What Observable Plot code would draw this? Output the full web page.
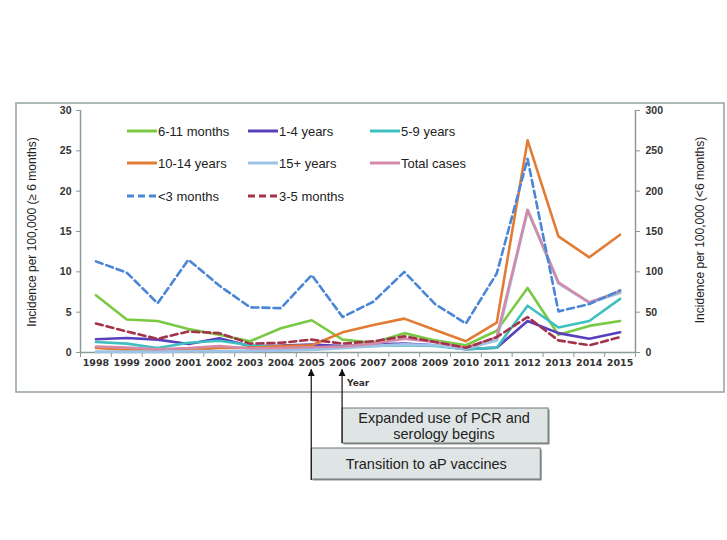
<!DOCTYPE html>
<html><head><meta charset="utf-8">
<script src="https://cdn.jsdelivr.net/npm/d3@7"></script>
<script src="https://cdn.jsdelivr.net/npm/@observablehq/plot@0.6"></script>
<style>body{margin:0;background:#fff}svg{display:block}</style>
</head><body><div id="chart"></div>
<script>
const years = [1998,1999,2000,2001,2002,2003,2004,2005,2006,2007,2008,2009,2010,2011,2012,2013,2014,2015];
// left axis (>= 6 months), per 100,000
const m6_11   = [7.1,4.1,3.9,2.9,2.2,1.4,3.0,4.0,1.6,1.2,2.4,1.5,0.9,2.7,8.0,2.2,3.3,3.9];
const y1_4    = [1.65,1.8,1.6,1.05,1.75,0.8,0.85,1.0,0.8,1.0,1.1,0.9,0.4,0.6,3.9,2.4,1.7,2.5];
const y5_9    = [1.3,1.1,0.55,1.2,1.45,0.9,0.7,0.6,0.7,0.8,0.9,0.8,0.4,0.6,5.8,3.1,3.9,6.65];
const y10_14  = [0.55,0.35,0.25,0.3,0.55,0.6,0.8,0.9,2.5,3.4,4.2,2.8,1.4,3.7,26.3,14.4,11.8,14.6];
const y15p    = [0.1,0.1,0.1,0.15,0.15,0.2,0.25,0.35,0.55,0.8,1.0,0.9,0.5,1.5,17.6,8.6,6.2,7.4];
const total   = [0.75,0.6,0.4,0.55,0.8,0.5,0.55,0.65,0.75,1.1,1.7,1.3,0.6,1.9,17.7,8.7,6.2,7.6];
// right axis (< 6 months), per 100,000
const lt3m    = [113,99,61,115,83,56,55,96,44,63,100,60,36,98,240,51,60,77];
const m3_5    = [36,26,17,26,24,11,12,16,11,14,20,13,6,19,44,15,9,19];
const leftTicks = [0,5,10,15,20,25,30];
const rightTicks = [0,50,100,150,200,250,300];

const series = [
  {name:"6-11 months", values:m6_11, color:"#7ac943", right:false},
  {name:"1-4 years", values:y1_4, color:"#5a3fbd", right:false},
  {name:"5-9 years", values:y5_9, color:"#3fbfbf", right:false},
  {name:"10-14 years", values:y10_14, color:"#e27b34", right:false},
  {name:"15+ years", values:y15p, color:"#9dc3e6", right:false},
  {name:"Total cases", values:total, color:"#d48aa8", right:false},
  {name:"<3 months", values:lt3m, color:"#4a86d6", right:true},
  {name:"3-5 months", values:m3_5, color:"#a3334a", right:true}
];
const rows = series.map(s => years.map((yr,i) => ({year:yr, v: s.right ? s.values[i]/10 : s.values[i]})));
const boundaries = d3.range(1997.5, 2016, 1);

const plot = Plot.plot({
  width:727, height:540,
  marginLeft:80, marginRight:92, marginTop:110, marginBottom:188,
  x:{domain:[1997.5,2015.5]},
  y:{domain:[0,30]},
  style:{background:"#fff", overflow:"visible"},
  marks:[
    Plot.axisX({ticks:boundaries, tickSize:5, tickFormat:()=>"", stroke:"#8c9a9a", label:null}),
    Plot.axisX({ticks:years, tickSize:0, tickPadding:7, tickFormat:d=>String(d), label:null,
      fontFamily:"DejaVu Sans", fontWeight:"bold", fontSize:9.5, fill:"#333"}),
    Plot.axisY({ticks:leftTicks, tickSize:4, tickPadding:5, stroke:"#8c9a9a", label:null,
      fontFamily:"Liberation Sans", fontWeight:"bold", fontSize:10.5, fill:"#333"}),
    Plot.axisY({anchor:"right", ticks:rightTicks.map(d=>d/10), tickSize:4, tickPadding:6, tickFormat:d=>String(d*10), stroke:"#8c9a9a", label:null,
      fontFamily:"Liberation Sans", fontWeight:"bold", fontSize:10.5, fill:"#333"}),
    Plot.ruleX([1997.5, 2015.5], {stroke:"#8c9a9a", strokeWidth:1.5}),
    Plot.ruleY([0], {stroke:"#8c9a9a", strokeWidth:1.5}),
    ...series.map((s,k) => Plot.line(rows[k], {x:"year", y:"v", stroke:s.color,
      strokeWidth: s.name==="15+ years" ? 3 : 2.6,
      strokeDasharray: s.right ? "7,4" : null}))
  ]
});
document.getElementById("chart").append(plot);

const svg = d3.select(plot);
const xs = plot.scale("x");
// frame
svg.insert("rect", ":first-child").attr("x",16).attr("y",103).attr("width",708).attr("height",289)
  .attr("fill","none").attr("stroke","#9aa7a7").attr("stroke-width",1.6);

// axis titles
svg.append("text").attr("transform","translate(36,232) rotate(-90)").attr("text-anchor","middle")
  .attr("font-family","Liberation Sans, Arial").attr("font-size",12).attr("fill","#222")
  .text("Incidence per 100,000 (≥ 6 months)");
svg.append("text").attr("transform","translate(704,230) rotate(-90)").attr("text-anchor","middle")
  .attr("font-family","Liberation Sans, Arial").attr("font-size",12).attr("fill","#222")
  .text("Incidence per 100,000 (<6 months)");
svg.append("text").attr("x",347).attr("y",386).attr("text-anchor","start").attr("font-family","DejaVu Sans").attr("font-weight","bold")
  .attr("font-size",9).attr("fill","#333").text("Year");

// legend
const legCols = [127, 248, 370], legRows = [131, 163, 196];
series.forEach((s,i) => {
  const cx = legCols[i%3], cy = legRows[Math.floor(i/3)];
  svg.append("line").attr("x1",cx).attr("x2",cx+30).attr("y1",cy).attr("y2",cy)
    .attr("stroke",s.color).attr("stroke-width",3).attr("stroke-dasharray", s.right ? "7,4" : null);
  svg.append("text").attr("x",cx+31).attr("y",cy+4.5).attr("text-anchor","start").attr("font-family","Liberation Sans, Arial")
    .attr("font-size",13).attr("fill","#222").text(s.name);
});

// annotations
const defs = svg.append("defs");
defs.append("marker").attr("id","ah").attr("viewBox","0 0 10 10").attr("refX",10).attr("refY",5)
  .attr("markerWidth",6).attr("markerHeight",8).attr("orient","auto")
  .append("path").attr("d","M0,0 L10,5 L0,10 z").attr("fill","#111");
const x05 = xs.apply(2005), x06 = xs.apply(2006);
function box(x, y, w, h, lines, cx, ys){
  svg.append("rect").attr("x",x+1.5).attr("y",y+1.5).attr("width",w).attr("height",h).attr("fill","#8a8f8f");
  svg.append("rect").attr("x",x).attr("y",y).attr("width",w).attr("height",h).attr("fill","#dfe5e5")
    .attr("stroke","#707676").attr("stroke-width",1);
  lines.forEach((t,i)=> svg.append("text").attr("x",cx).attr("y",ys[i]).attr("text-anchor","middle")
    .attr("font-family","Liberation Sans, Arial").attr("font-size",14.5).attr("fill","#222").text(t));
}
box(x06, 408, 206, 35, ["Expanded use of PCR and","serology begins"], x06+102, [423, 439]);
box(x05, 448, 229, 31, ["Transition to aP vaccines"], x05+115, [469]);
svg.append("line").attr("x1",x05).attr("x2",x05).attr("y1",480).attr("y2",369)
  .attr("stroke","#111").attr("stroke-width",1.2).attr("marker-end","url(#ah)");
svg.append("line").attr("x1",x06).attr("x2",x06).attr("y1",443).attr("y2",369)
  .attr("stroke","#111").attr("stroke-width",1.2).attr("marker-end","url(#ah)");
</script></body></html>
